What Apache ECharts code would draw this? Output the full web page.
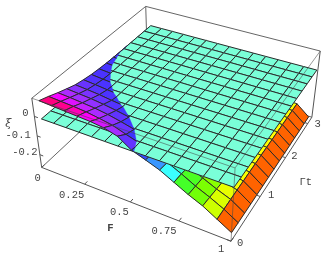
<!DOCTYPE html>
<html>
<head>
<meta charset="utf-8">
<style>html,body{margin:0;padding:0;background:#fff}#c{width:328px;height:261px}</style>
<script src="https://cdn.jsdelivr.net/npm/echarts@6/dist/echarts.min.js"></script>
</head>
<body>
<div id="c"></div>
<script>
// ---- data ----
const fGrid = [0.04,0.1086,0.1771,0.2457,0.3143,0.3829,0.4514,0.52,0.5886,0.6571,0.7257,0.7943,0.8629,0.9314,1];
const tGrid = [0,0.214,0.429,0.643,0.857,1.071,1.286,1.5,1.714,1.929,2.143,2.357,2.571,2.786,3];
const sheetTGrid = [0,0.224,0.449,0.673,0.898,1.122,1.346,1.571,1.795,2.02,2.244,2.468,2.693,2.917,3.142];
// xi x 1000, one row per t, one column per F
const xiRows = [
 [90,86,82,78,74,66,48,4,-20,-45,-80,-115,-145,-185,-225],
 [74,70,66,60,50,38,16,-5,-28,-52,-84,-120,-150,-184,-226],
 [56,52,46,40,30,16,0,-20,-40,-65,-92,-125,-156,-183,-227],
 [40,35,30,22,12,0,-15,-35,-55,-85,-110,-132,-162,-182,-228],
 [25,20,14,5,-2,-13,-28,-45,-70,-100,-122,-138,-166,-182,-228],
 [16,10,3,-3,-10,-21,-35,-52,-78,-108,-128,-142,-168,-181,-229],
 [9,3,-2,-9,-18,-30,-46,-64,-85,-112,-130,-145,-170,-181,-229],
 [5,0,-5,-13,-24,-38,-54,-70,-88,-115,-132,-147,-171,-180,-230],
 [2,-2,-9,-18,-30,-43,-56,-72,-90,-116,-134,-148,-172,-180,-230],
 [1,-3,-10,-20,-32,-44,-58,-74,-92,-118,-135,-149,-172,-180,-231],
 [0,-4,-11,-21,-33,-45,-59,-75,-93,-118,-136,-149,-173,-180,-231],
 [0,-5,-12,-22,-34,-46,-60,-76,-94,-119,-136,-150,-173,-180,-231],
 [-1,-5,-12,-22,-34,-46,-60,-76,-94,-119,-137,-150,-174,-180,-232],
 [-1,-6,-13,-23,-35,-47,-61,-77,-95,-120,-137,-150,-175,-179,-232],
 [-1,-6,-13,-23,-35,-47,-61,-77,-95,-120,-137,-150,-175,-179,-232]
];
const sheetXi = 0;
const fTicks = [0,0.25,0.5,0.75,1];
const fTickLabels = ['0','0.25','0.5','0.75','1'];
const tTicks = [0,1,2,3];
const tTickLabels = ['0','1','2','3'];
const xiTicks = [0,-0.1,-0.2];
const xiTickLabels = ['0','-0.1','-0.2'];

// ---- style and view ----
const box = {f:[0,1], t:[0,3.2], xi:[-0.27,0.09]};
// where known model points appear on the page, used to calibrate the camera
const cornerView = [
 [0,0,0,42,168],[1,0,0,231,242],[1,1,0,313,116],[0,1,0,147,69],
 [0,0,1,31,99],[1,0,1,236,170],[1,1,1,322,52],[0,1,1,146,5],
 [0.02,0.982,0.75,148,26],[1,0.982,0.75,314,70],[1,0,0.75,233,185],[0.04,0,0.75,42,117]
];
const hueXi  = [0.085,0.075,0.065,0.05,0.03,0.01,0,-0.06,-0.10,-0.14,-0.165,-0.175,-0.19,-0.2,-0.23];
const hueDeg = [335,325,300,280,265,250,245,190,112,90,73,60,55,24,20];
const lightPct = [50,50,50,58,60,60,60,62,58,50,50,50,50,50,50];
const sheetColor = '#7affd8';
const gridLine = '#2a2a2a';
const labelFont = '10.5px "Liberation Mono", monospace';
const fLabelShift = [[-4,11],[-13,11],[-11,10],[-15,10],[-10,8]];
const tLabelShift = [[9,2],[11,-1],[9,-1],[10,1]];
const xiLabelShift = [[-9,-3],[-19,-1],[-15,-2]];

// ---- camera: least squares fit of a projective map to the corners ----
function fitCamera(pts){
  const n=11, A=Array.from({length:n},()=>new Array(n+1).fill(0));
  const add=(r,b)=>{for(let i=0;i<n;i++){for(let j=0;j<n;j++)A[i][j]+=r[i]*r[j];A[i][n]+=r[i]*b;}};
  pts.forEach(([X,Y,Z,u0,v0])=>{const u=u0/100,v=v0/100;
    add([X,Y,Z,1,0,0,0,0,-u*X,-u*Y,-u*Z],u);
    add([0,0,0,0,X,Y,Z,1,-v*X,-v*Y,-v*Z],v);});
  for(let i=0;i<n;i++){let m=i;for(let k=i+1;k<n;k++)if(Math.abs(A[k][i])>Math.abs(A[m][i]))m=k;
    [A[i],A[m]]=[A[m],A[i]];
    for(let k=0;k<n;k++){if(k===i)continue;const f=A[k][i]/A[i][i];for(let j=i;j<=n;j++)A[k][j]-=f*A[i][j];}}
  return A.map((r,i)=>r[n]/r[i]);
}
const cam=fitCamera(cornerView);
function project(F,t,xi){
  const X=(F-box.f[0])/(box.f[1]-box.f[0]),Y=(t-box.t[0])/(box.t[1]-box.t[0]),Z=(xi-box.xi[0])/(box.xi[1]-box.xi[0]);
  const w=cam[8]*X+cam[9]*Y+cam[10]*Z+1;
  return [100*(cam[0]*X+cam[1]*Y+cam[2]*Z+cam[3])/w,100*(cam[4]*X+cam[5]*Y+cam[6]*Z+cam[7])/w];
}
function colorOf(x){
  let h=hueDeg[hueDeg.length-1],l=lightPct[lightPct.length-1];
  if(x>=hueXi[0]){h=hueDeg[0];l=lightPct[0];}
  else for(let i=1;i<hueXi.length;i++)if(x>=hueXi[i]){const a=(x-hueXi[i])/(hueXi[i-1]-hueXi[i]);
    h=hueDeg[i]+a*(hueDeg[i-1]-hueDeg[i]);l=lightPct[i]+a*(lightPct[i-1]-lightPct[i]);break;}
  return 'hsl('+h+',100%,'+l+'%)';
}

// ---- cells: far side first, cut where the surface crosses the flat sheet ----
function vertex(i,j,level){return level===null?[fGrid[i],tGrid[j],xiRows[j][i]/1000]:[fGrid[i],sheetTGrid[j],level];}
function clipCell(vs,keepAbove){
  const poly=[],segs=[];
  const inside=v=>keepAbove?v[2]>=sheetXi:v[2]<sheetXi;
  const cross=(a,b)=>{const s=(sheetXi-a[2])/(b[2]-a[2]);return [a[0]+s*(b[0]-a[0]),a[1]+s*(b[1]-a[1]),sheetXi];};
  for(let k=0;k<4;k++){const a=vs[k],b=vs[(k+1)%4],ia=inside(a),ib=inside(b);
    if(ia)poly.push(a);
    if(ia&&ib)segs.push([a,b]);
    else if(ia!==ib){const c=cross(a,b);poly.push(c);segs.push(ia?[a,c]:[c,b]);}
  }
  return {poly,segs};
}
function buildLayer(level,part){
  const out=[];
  for(let j=tGrid.length-2;j>=0;j--)for(let i=0;i<fGrid.length-1;i++){
    const vs=[vertex(i,j,level),vertex(i+1,j,level),vertex(i+1,j+1,level),vertex(i,j+1,level)];
    const color=level===null?colorOf((vs[0][2]+vs[1][2]+vs[2][2]+vs[3][2])/4):sheetColor;
    const c=part===null?{poly:vs,segs:vs.map((v,k)=>[v,vs[(k+1)%4]])}:clipCell(vs,part==='above');
    if(c.poly.length>2)out.push({poly:c.poly,segs:c.segs,color});
  }
  return out;
}
function cellRender(list){
  return function(params,api){
    const c=list[params.dataIndex];
    const pt=v=>api.coord(project(v[0],v[1],v[2]));
    const ch=[{type:'polygon',shape:{points:c.poly.map(pt)},style:{fill:c.color,stroke:c.color,lineWidth:0.3},silent:true}];
    c.segs.forEach(s=>ch.push({type:'line',shape:{x1:pt(s[0])[0],y1:pt(s[0])[1],x2:pt(s[1])[0],y2:pt(s[1])[1]},style:{stroke:gridLine,lineWidth:1,fill:null},silent:true}));
    return {type:'group',children:ch};
  };
}
function cellSeries(list){
  return {type:'custom',coordinateSystem:'cartesian2d',clip:false,silent:true,animation:false,
    data:list.map((c,k)=>[k]),encode:{x:0,y:0},renderItem:cellRender(list)};
}

// ---- box edges, ticks ----
const F0=box.f[0],F1=box.f[1],T0=box.t[0],T1=box.t[1],Z0=box.xi[0],Z1=box.xi[1];
const backEdges=[
 [[F0,T0,Z0],[F0,T1,Z0]],[[F0,T1,Z0],[F1,T1,Z0]],[[F0,T1,Z0],[F0,T1,Z1]],
 [[F0,T0,Z1],[F0,T1,Z1]],[[F0,T1,Z1],[F1,T1,Z1]]
];
const solidEdges=[
 [[F0,T0,Z0],[F1,T0,Z0]],[[F1,T0,Z0],[F1,T1,Z0]],[[F0,T0,Z0],[F0,T0,Z1]],[[F1,T1,Z0],[F1,T1,Z1]]
];
const faintEdges=[
 [[F0,T0,Z1],[F1,T0,Z1]],[[F1,T0,Z1],[F1,T1,Z1]],[[F1,T0,Z0],[F1,T0,Z1]]
];
const tickSegs=[];
fTicks.forEach(v=>tickSegs.push([[v,T0,Z0],[v,T0+0.07,Z0]]));
tTicks.forEach(v=>tickSegs.push([[F1,v,Z0],[F1-0.02,v,Z0]]));
xiTicks.forEach(v=>tickSegs.push([[F0,T0,v],[F0+0.02,T0,v]]));
function lineSeries(list,color,width){
  return {type:'custom',coordinateSystem:'cartesian2d',clip:false,silent:true,animation:false,
    data:list.map((c,k)=>[k]),encode:{x:0,y:0},
    renderItem(params,api){const s=list[params.dataIndex];
      const a=api.coord(project(...s[0])),b=api.coord(project(...s[1]));
      return {type:'line',shape:{x1:a[0],y1:a[1],x2:b[0],y2:b[1]},style:{stroke:color,lineWidth:width,fill:null},silent:true};}};
}

// ---- labels ----
const labels=[];
fTicks.forEach((v,i)=>labels.push({p:[v,T0,Z0],s:fLabelShift[i],text:fTickLabels[i]}));
tTicks.forEach((v,i)=>labels.push({p:[F1,v,Z0],s:tLabelShift[i],text:tTickLabels[i]}));
xiTicks.forEach((v,i)=>labels.push({p:[F0,T0,v],s:xiLabelShift[i],text:xiTickLabels[i]}));
labels.push({p:[0.5,T0,Z0],s:[-20,26],text:'F',font:'bold 10.5px "Liberation Mono", monospace'});
labels.push({p:[F1,1.6,Z0],s:[30,10],text:'\u0393t',font:labelFont});
labels.push({p:[F0,T0,-0.03],s:[-27,2],text:'\u03be',font:'italic 11px "DejaVu Serif", serif'});
const labelSeries={type:'custom',coordinateSystem:'cartesian2d',clip:false,silent:true,animation:false,
  data:labels.map((c,k)=>[k]),encode:{x:0,y:0},
  renderItem(params,api){const l=labels[params.dataIndex];
    const a=api.coord(project(...l.p));
    return {type:'text',x:a[0]+l.s[0],y:a[1]+l.s[1],silent:true,
      style:{text:l.text,font:l.font||labelFont,fill:'#444',align:'center',verticalAlign:'middle'}};}};

const chart=echarts.init(document.getElementById('c'),null,{renderer:'canvas'});
chart.setOption({
  animation:false,
  backgroundColor:'#fff',
  grid:{left:0,right:0,top:0,bottom:0},
  xAxis:{type:'value',min:0,max:328,show:false},
  yAxis:{type:'value',min:0,max:261,inverse:true,show:false},
  series:[
    lineSeries(backEdges,'#666',1),
    cellSeries(buildLayer(null,'below')),
    cellSeries(buildLayer(sheetXi,null)),
    cellSeries(buildLayer(null,'above')),
    lineSeries(solidEdges,'#555',1),
    lineSeries(tickSegs,'#555',1),
    lineSeries(faintEdges,'rgba(70,70,70,0.55)',1),
    labelSeries
  ]
});
</script>
</body>
</html>
